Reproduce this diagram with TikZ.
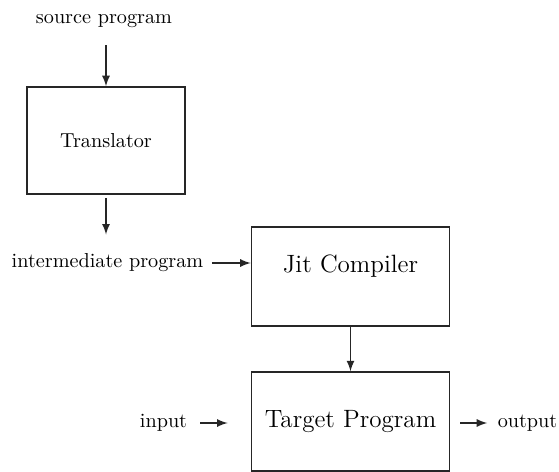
\documentclass[tikz,border=0pt]{standalone}
\usepackage{tikz}
\usetikzlibrary{arrows,positioning,calc}

\begin{document}
\begin{tikzpicture}[x=0.0174cm,y=-0.0174cm]

%BACKGROUND
\useasboundingbox (0,0) rectangle (559,471);

%%%%%%%%%%%%%%%%%%%%%%%%%%%%%%%%%%%%%%%%%%%%%%%%%%%%%%%%%%%%%%
%styles
%boxes
\tikzstyle{block}=[draw,line width=0.8pt,color=black!85,text=black,inner sep=0pt]
\tikzstyle{bigblock}=[block,minimum width=3.445cm,minimum height=1.72cm,font=\fontsize{12.4}{15}\selectfont]
%texts
\tikzstyle{word}=[inner sep=0pt]
%arrows
\tikzstyle{flow}=[->,>=latex,line width=0.8pt,color=black!85]

%translator
\node[word] (source) at (104,21) {source program};
\node[block,minimum width=2.75cm,minimum height=1.86cm] (translator) at (106,140.5) {Translator};
\node[word] (intermediate) at (107.5,263) {intermediate program};

%jit
\node[bigblock,text depth=12.8pt] (jit) at (350.5,276.5) {Jit Compiler};

%target
\node[bigblock] (target) at (350.5,421.5) {Target Program};
\node[word] (input) at (163.5,423) {input};
\node[word] (output) at (527.5,423) {output};

%%%%%%%%%%%%%%%%%%%%%%%%%%%%%%%%%%%%%%%%%%%%%%%%%%%%%%%%%%%%%%
%ARROWS
\draw[flow,shorten <=8.4pt] (source.south -| translator.north) -- (translator.north);
\draw[flow,shorten <=1.5pt,shorten >=9.4pt] (translator.south) -- (translator.south |- intermediate.north);
\draw[flow,shorten <=4pt] (intermediate.east) -- (intermediate.east -| jit.west);
\draw[flow] (jit) -- (target);
%input/output
\draw[flow,shorten <=6.4pt,shorten >=11.4pt] (input.east) -- (input.east -| target.west);
\draw[flow,shorten <=5pt,shorten >=5pt] (target.east |- output.west) -- (output.west);
\end{tikzpicture}
\end{document}
